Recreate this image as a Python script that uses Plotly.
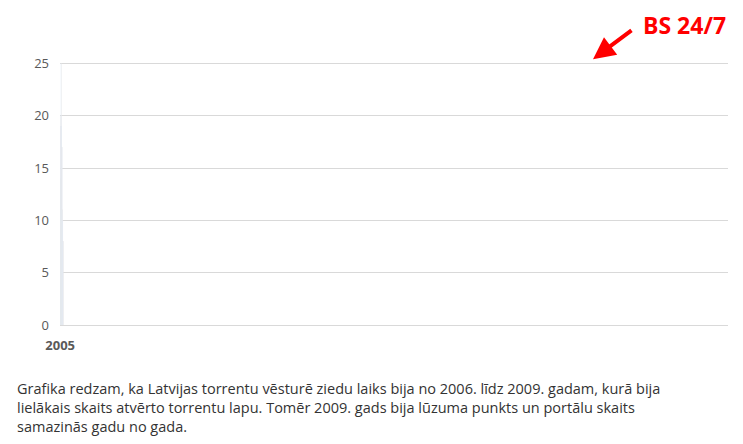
import plotly.graph_objects as go

years = ["2005", "2006", "2007", "2008", "2009", "2010", "2011", "2012", "2013", "2014", "2015", "2016"]
counts = [4, 14, 19, 20, 25, 19, 17, 17, 11, 10, 8, 8]
caption_lines = [
    "Grafika redzam, ka Latvijas torrentu vēsturē ziedu laiks bija no 2006. līdz 2009. gadam, kurā bija",
    "lielākais skaits atvērto torrentu lapu. Tomēr 2009. gads bija lūzuma punkts un portālu skaits",
    "samazinās gadu no gada.",
]

fig = go.Figure()
fig.add_trace(go.Bar(x=years, y=counts, marker_color="#ED9B50", width=0.33))

# hand-drawn style arrow pointing at the 2009 bar
fig.add_annotation(x="2009", y=25.4, ax=40, ay=-30, text="", showarrow=True,
                   arrowhead=2, arrowsize=1.1, arrowwidth=4, arrowcolor="#FF0000")
fig.add_annotation(x="2009", y=28.7, xshift=48, text="<b>BS 24/7</b>", showarrow=False,
                   xanchor="left", font=dict(size=23, color="#FF0000", family="Open Sans"))

fig.add_annotation(xref="paper", yref="paper", x=-0.068, y=-0.165, yanchor="top", xanchor="left",
                   align="left", showarrow=False, text="<br>".join(caption_lines),
                   font=dict(size=14.5, color="#333333", family="Open Sans"))

fig.update_layout(
    width=743, height=444,
    margin=dict(l=52, r=23, t=3, b=127),
    plot_bgcolor="white", paper_bgcolor="white",
    showlegend=False,
    font=dict(family="Open Sans", color="#595959"),
    xaxis=dict(type="category", tickfont=dict(size=13, color="#595959"), ticklabelstandoff=8,
               showline=True, linecolor="#d9d9d9", tickprefix="<b>", ticksuffix="</b>"),
    yaxis=dict(range=[0, 30], dtick=5, gridcolor="#d9d9d9", zeroline=False,
               tickfont=dict(size=13, color="#595959"), ticklabelstandoff=10),
)

fig.write_html("out.html")
